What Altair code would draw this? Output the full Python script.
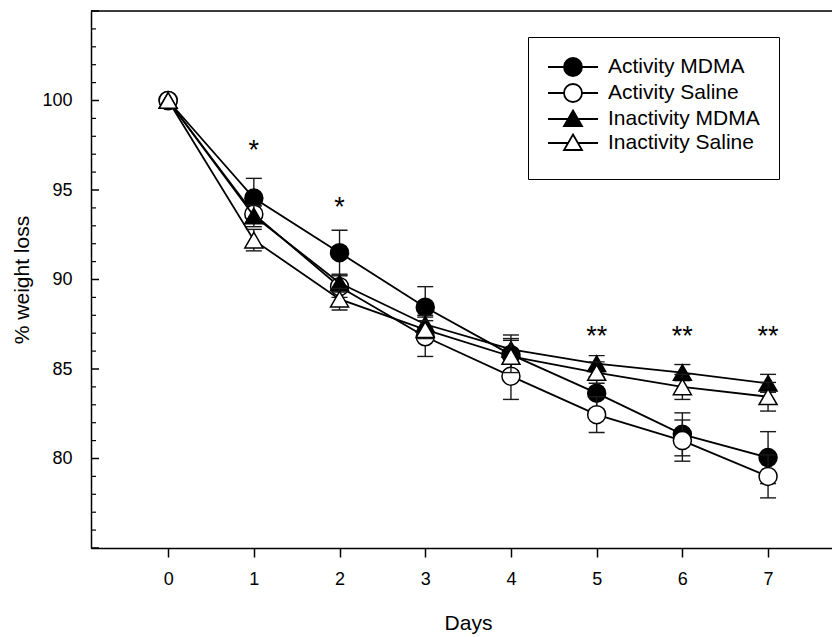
import altair as alt
import pandas as pd

# ---- data -------------------------------------------------------------
days = [0, 1, 2, 3, 4, 5, 6, 7]
series_names = ["Activity MDMA", "Activity Saline", "Inactivity MDMA", "Inactivity Saline"]

act_mdma = [100, 94.55, 91.5, 88.45, 85.8, 83.65, 81.35, 80.05]
act_mdma_sem = [0, 1.1, 1.25, 1.15, 0.9, 0.9, 1.2, 1.45]
act_saline = [100, 93.65, 89.6, 86.8, 84.6, 82.45, 81.0, 79.0]
act_saline_sem = [0, 0.45, 0.6, 1.1, 1.3, 1.0, 1.15, 1.2]
inact_mdma = [100, 93.55, 89.8, 87.5, 86.1, 85.3, 84.8, 84.2]
inact_mdma_sem = [0, 0.6, 0.5, 0.5, 0.8, 0.45, 0.45, 0.5]
inact_saline = [100, 92.2, 88.9, 87.2, 85.7, 84.8, 84.0, 83.45]
inact_saline_sem = [0, 0.6, 0.6, 0.5, 0.9, 0.6, 0.7, 0.8]

star_days = [1, 2, 5, 6, 7]
star_text = ["*", "*", "**", "**", "**"]
star_y = [97.4, 94.2, 87.0, 87.0, 87.0]

y_tick_labels = [80, 85, 90, 95, 100]

# ---- styling per series ----------------------------------------------
marker_shape = ["circle", "circle", "triangle-up", "triangle-up"]
marker_fill = ["black", "white", "black", "white"]

# legend glyphs (10 px per unit at symbolSize 400): a line with the marker on it
circle_glyph = ("M-2.5,0L-0.9,0M0.9,0L2.5,0"
                "M0.9,0A0.9,0.9 0 1 1 -0.9,0A0.9,0.9 0 1 1 0.9,0Z")
triangle_glyph = ("M-2.5,0L-0.49,0M0.49,0L2.5,0"
                  "M0,-0.85L0.9,0.7L-0.9,0.7Z")
legend_glyphs = [circle_glyph, circle_glyph, triangle_glyph, triangle_glyph]

FONT = "Liberation Sans"

means = [act_mdma, act_saline, inact_mdma, inact_saline]
sems = [act_mdma_sem, act_saline_sem, inact_mdma_sem, inact_saline_sem]

frames = []
for name, m, s in zip(series_names, means, sems):
    frames.append(pd.DataFrame({
        "series": name,
        "day": days,
        "mean": m,
        "lo": [v - e for v, e in zip(m, s)],
        "hi": [v + e for v, e in zip(m, s)],
    }))

x_scale = alt.Scale(domain=[-0.9, 7.746], nice=False, zero=False)
y_scale = alt.Scale(domain=[75, 105], nice=False, zero=False)

x_axis = alt.Axis(values=days, title="Days", grid=False, tickSize=9, tickWidth=1.5,
                  tickColor="black", labelPadding=13, titleX=377, titleY=81,
                  titleBaseline="alphabetic", domainWidth=1.5)
y_axis = alt.Axis(values=y_tick_labels, title="% weight loss", grid=False, ticks=False,
                  tickSize=0, labelPadding=19, titleX=-63, titleY=268.5,
                  titleBaseline="alphabetic", domainWidth=1.5)


def X(field):
    return alt.X(field, type="quantitative", scale=x_scale, axis=x_axis)


def Y(field):
    return alt.Y(field, type="quantitative", scale=y_scale, axis=y_axis)


layers = []

# top frame line
layers.append(
    alt.Chart(pd.DataFrame({"v": [105]}))
    .mark_rule(color="black", strokeWidth=1.5)
    .encode(y=Y("v"))
)

# inward-pointing ticks on the value axis
tick_vals = pd.DataFrame({"v": list(range(75, 106))})
layers.append(
    alt.Chart(tick_vals)
    .transform_filter("datum.v % 5 == 0")
    .mark_rule(color="black", strokeWidth=1.5)
    .encode(y=Y("v"), x=alt.value(0), x2=alt.value(8))
)
layers.append(
    alt.Chart(tick_vals)
    .transform_filter("datum.v % 5 != 0")
    .mark_rule(color="black", strokeWidth=1.2)
    .encode(y=Y("v"), x=alt.value(0), x2=alt.value(5))
)

# each series: connecting line, error bars, then markers
for df, shape, fill in zip(frames, marker_shape, marker_fill):
    base = alt.Chart(df)
    layers.append(
        base.mark_line(color="black", strokeWidth=1.8)
        .encode(x=X("day"), y=Y("mean"))
    )
    bars = base.transform_filter("datum.day > 0")
    layers.append(
        bars.mark_rule(color="#1a1a1a", strokeWidth=1.4)
        .encode(x=X("day"), y=Y("lo"), y2="hi")
    )
    layers.append(
        bars.transform_fold(["lo", "hi"], as_=["end", "val"])
        .mark_tick(orient="horizontal", size=16, thickness=1.4,
                   color="#1a1a1a", opacity=1)
        .encode(x=X("day"), y=Y("val:Q"))
    )
    layers.append(
        base.mark_point(shape=shape, size=324, filled=True, fill=fill,
                        stroke="black", strokeWidth=1.5, opacity=1)
        .encode(x=X("day"), y=Y("mean"))
    )

# legend source (marks hidden, legend symbols shown); the blank bottom title
# leaves a little extra space under the last entry
legend_def = alt.Legend(
    title=" ", titleOrient="bottom", titleFontSize=6, titlePadding=0,
    orient="none", legendX=437, legendY=26, padding=19,
    strokeColor="black", fillColor="white", symbolSize=400,
    symbolStrokeWidth=1.8, symbolStrokeColor="black", symbolOpacity=1,
    symbolOffset=15, labelFont=FONT, labelFontSize=21, labelColor="black",
    labelOffset=24, rowPadding=0,
)
layers.append(
    alt.Chart(pd.DataFrame({"series": series_names}))
    .mark_point(opacity=0, filled=False, stroke="black", strokeWidth=1.8)
    .encode(
        x=alt.value(0), y=alt.value(0),
        shape=alt.Shape("series:N", scale=alt.Scale(domain=series_names, range=legend_glyphs),
                        legend=legend_def),
        fill=alt.Fill("series:N", scale=alt.Scale(domain=series_names, range=marker_fill),
                      legend=legend_def),
        stroke=alt.Stroke("series:N",
                          scale=alt.Scale(domain=series_names, range=["black"] * 4),
                          legend=legend_def),
    )
)

# significance markers
layers.append(
    alt.Chart(pd.DataFrame({"day": star_days, "y": star_y, "txt": star_text}))
    .mark_text(font=FONT, fontSize=27, color="black", baseline="alphabetic", dy=12)
    .encode(x=X("day"), y=Y("y"), text="txt:N")
)

chart = (
    alt.layer(*layers)
    .properties(width=741, height=537, autosize="none",
                padding={"left": 91, "top": 11, "right": 0, "bottom": 89})
    .configure_view(stroke=None)
    .configure(font=FONT)
    .configure_axis(labelFont=FONT, labelFontSize=18, labelColor="black",
                    titleFont=FONT, titleFontSize=21, titleFontWeight="normal",
                    titleColor="black", domainColor="black")
)

chart.save("out.html", embed_options={"renderer": "svg", "actions": False})
